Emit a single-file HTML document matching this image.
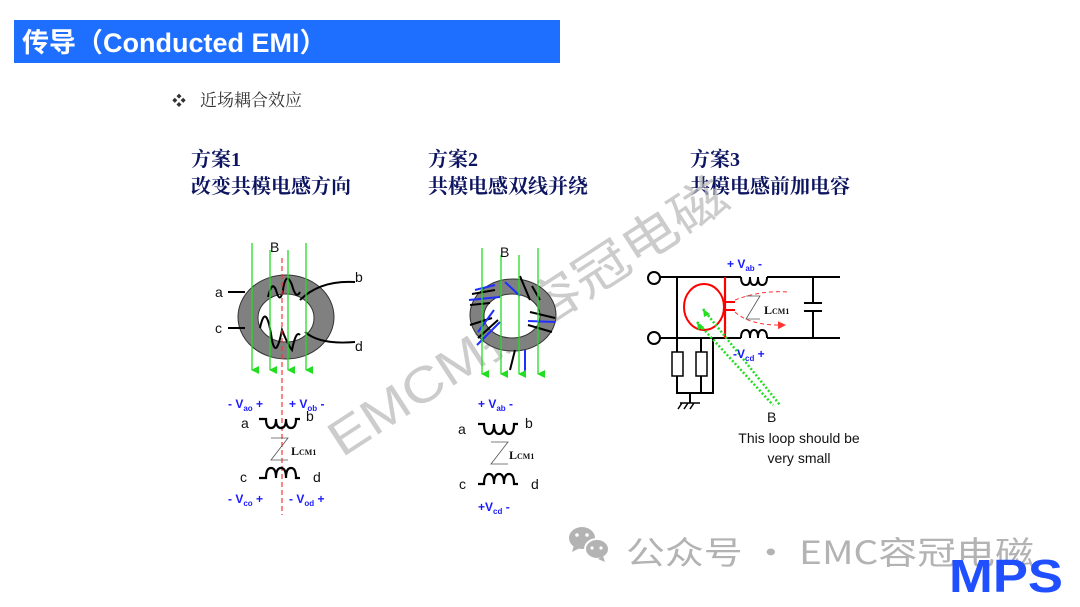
<!DOCTYPE html>
<html><head><meta charset="utf-8"><style>
html,body{margin:0;padding:0;background:#fff;}
svg{display:block;}
.t{font-family:"Liberation Serif","Noto Serif CJK SC",serif;fill:#0d1560;font-size:20px;font-weight:bold;}
.s{font-family:"Liberation Sans","Noto Sans CJK SC",sans-serif;}
.bl{fill:#1a1aff;font-weight:bold;font-size:12px;font-family:"Liberation Sans",sans-serif;}
.bk{font-family:"Liberation Sans",sans-serif;font-size:14px;fill:#111;}
.lc{font-family:"Liberation Serif",serif;font-weight:bold;font-size:12px;fill:#111;}
</style></head><body>
<svg width="1080" height="607" viewBox="0 0 1080 607" xmlns="http://www.w3.org/2000/svg">
<defs>
<marker id="ga" markerWidth="8" markerHeight="8" refX="4" refY="7" orient="auto" markerUnits="userSpaceOnUse" viewBox="0 0 8 8"><path d="M0,0 L8,0 L4,8 z" fill="#22dd22"/></marker>
<marker id="ra" markerWidth="8" markerHeight="8" refX="7" refY="4" orient="auto" markerUnits="userSpaceOnUse" viewBox="0 0 8 8"><path d="M0,0 L8,4 L0,8 z" fill="#ff3333"/></marker>
</defs>
<rect x="14" y="20" width="546" height="43" fill="#1e6fff"/>
<text x="22" y="52" class="s" font-size="27" font-weight="bold" fill="#fff">传导（Conducted EMI）</text>
<text x="172" y="106" font-size="14" fill="#333" class="s">❖</text>
<text x="200" y="106" font-size="17" fill="#333" font-family="Liberation Serif,'Noto Serif CJK SC',serif">近场耦合效应</text>

<text x="191" y="166" class="t">方案1</text><text x="191" y="193" class="t">改变共模电感方向</text>
<text x="428" y="166" class="t">方案2</text><text x="428" y="193" class="t">共模电感双线并绕</text>
<text x="690" y="166" class="t">方案3</text><text x="690" y="193" class="t">共模电感前加电容</text>

<!-- watermark -->
<text x="0" y="0" transform="translate(342,458) rotate(-33)" font-size="50" fill="#bbb" fill-opacity="0.75" font-family="Liberation Sans,'Noto Sans CJK SC',sans-serif" textLength="465" lengthAdjust="spacingAndGlyphs">EMCM技容冠电磁</text>

<!-- Diagram 1 -->
<ellipse cx="286" cy="317" rx="48" ry="42" fill="#808080" stroke="#333" stroke-width="1"/>
<ellipse cx="286" cy="318" rx="28" ry="24" fill="#fff" stroke="#333" stroke-width="1"/>
<g stroke="#000" stroke-width="2" fill="none">
<path d="M228,292 H245"/><path d="M228,328 H245"/>
<path d="M268,297 Q272,280 276,290 Q280,305 283,290 Q286,270 292,285 Q296,300 300,292"/>
<path d="M260,328 Q266,300 272,340 Q276,360 282,330 Q288,345 292,350 Q296,330 300,335"/>
<path d="M300,300 Q320,280 355,282"/><path d="M305,332 Q320,345 355,342"/>
</g>
<g stroke="#22dd22" stroke-width="1.3" marker-end="url(#ga)">
<line x1="252" y1="243" x2="252" y2="370"/><line x1="270" y1="250" x2="270" y2="370"/>
<line x1="288" y1="250" x2="288" y2="370"/><line x1="306" y1="243" x2="306" y2="370"/>
</g>
<line x1="282" y1="258" x2="282" y2="515" stroke="#ff3333" stroke-width="1.2" stroke-dasharray="5,3"/>
<text x="270" y="252" class="bk" font-size="16">B</text>
<text x="215" y="297" class="bk">a</text><text x="215" y="333" class="bk">c</text>
<text x="355" y="282" class="bk">b</text><text x="355" y="351" class="bk">d</text>
<text x="228" y="408" class="bl">- V<tspan font-size="8" dy="3">ao</tspan><tspan dy="-3"> +</tspan></text>
<text x="289" y="408" class="bl">+ V<tspan font-size="8" dy="3">ob</tspan><tspan dy="-3"> -</tspan></text>
<text x="241" y="428" class="bk">a</text><text x="306" y="421" class="bk">b</text>
<path d="M259,419 H266 Q266,428 271,428 Q276,428 276,419 Q276,428 281,428 Q286,428 286,419 Q286,428 291,428 Q296,428 296,419 H300" stroke="#000" stroke-width="2.2" fill="none"/>
<path d="M271,438 H288 L271,460 H288" stroke="#555" stroke-width="0.8" fill="none"/>
<text x="291" y="455" class="lc">L<tspan font-size="8">CM1</tspan></text>
<text x="240" y="482" class="bk">c</text><text x="313" y="482" class="bk">d</text>
<path d="M259,478 H266 Q266,468 271,468 Q276,468 276,478 Q276,468 281,468 Q286,468 286,478 Q286,468 291,468 Q296,468 296,478 H300" stroke="#000" stroke-width="2.2" fill="none"/>
<text x="228" y="503" class="bl">- V<tspan font-size="8" dy="3">co</tspan><tspan dy="-3"> +</tspan></text>
<text x="289" y="503" class="bl">- V<tspan font-size="8" dy="3">od</tspan><tspan dy="-3"> +</tspan></text>

<!-- Diagram 2 -->
<ellipse cx="513" cy="315" rx="43" ry="36" fill="#808080" stroke="#333"/>
<ellipse cx="512" cy="316" rx="28" ry="22" fill="#fff" stroke="#333"/>
<g stroke="#000" stroke-width="2" fill="none">
<path d="M472,294 L495,290"/><path d="M470,305 L490,303"/><path d="M470,325 L492,318"/><path d="M478,338 L498,320"/>
<path d="M520,276 L530,300"/><path d="M532,286 L540,300"/><path d="M530,312 L555,318"/><path d="M528,325 L552,332"/><path d="M515,350 L510,370"/>
</g>
<g stroke="#1f2fff" stroke-width="2" fill="none">
<path d="M469,300 L500,297"/><path d="M478,332 L494,310"/><path d="M477,345 L500,322"/><path d="M505,282 L520,296"/>
<path d="M528,321 L555,322"/><path d="M525,350 L525,372"/><path d="M475,290 L495,285"/>
</g>
<g stroke="#22dd22" stroke-width="1.3" marker-end="url(#ga)">
<line x1="482" y1="248" x2="482" y2="374"/><line x1="501" y1="255" x2="501" y2="374"/>
<line x1="519" y1="255" x2="519" y2="374"/><line x1="538" y1="248" x2="538" y2="374"/>
</g>
<text x="500" y="257" class="bk" font-size="16">B</text>
<text x="478" y="408" class="bl">+ V<tspan font-size="8" dy="3">ab</tspan><tspan dy="-3"> -</tspan></text>
<text x="458" y="434" class="bk">a</text><text x="525" y="428" class="bk">b</text>
<path d="M478,424 H484 Q484,434 489,434 Q494,434 494,424 Q494,434 499,434 Q504,434 504,424 Q504,434 509,434 Q514,434 514,424 H518" stroke="#000" stroke-width="2.2" fill="none"/>
<path d="M491,442 H508 L491,464 H508" stroke="#555" stroke-width="0.8" fill="none"/>
<text x="509" y="459" class="lc">L<tspan font-size="8">CM1</tspan></text>
<text x="459" y="489" class="bk">c</text><text x="531" y="489" class="bk">d</text>
<path d="M478,484 H484 Q484,474 489,474 Q494,474 494,484 Q494,474 499,474 Q504,474 504,484 Q504,474 509,474 Q514,474 514,484 H518" stroke="#000" stroke-width="2.2" fill="none"/>
<text x="478" y="511" class="bl">+V<tspan font-size="8" dy="3">cd</tspan><tspan dy="-3"> -</tspan></text>

<!-- Diagram 3 -->
<g stroke="#000" stroke-width="2" fill="none">
<circle cx="654" cy="278" r="6"/><circle cx="654" cy="338" r="6"/>
<path d="M660,277 H741"/><path d="M767,277 H840"/>
<path d="M660,338 H741"/><path d="M767,338 H840"/>
<path d="M741,277 Q741,285 746,285 Q750,285 750,277 Q750,285 754,285 Q758,285 758,277 Q758,285 762,285 Q767,285 767,277"/>
<path d="M741,338 Q741,330 746,330 Q750,330 750,338 Q750,330 754,330 Q758,330 758,338 Q758,330 762,330 Q767,330 767,338"/>
<path d="M677,277 V393 H713 V338"/><path d="M690,393 V403"/>
<path d="M813,277 V303 M804,303 H822 M804,311 H822 M813,311 V338"/>
</g>
<rect x="672" y="352" width="11" height="24" fill="#fff" stroke="#000" stroke-width="1.5"/>
<rect x="696" y="352" width="11" height="24" fill="#fff" stroke="#000" stroke-width="1.5"/>
<line x1="677" y1="338" x2="677" y2="352" stroke="#000" stroke-width="2"/>
<line x1="701" y1="338" x2="701" y2="352" stroke="#000" stroke-width="2"/>
<line x1="677" y1="376" x2="677" y2="393" stroke="#000" stroke-width="2"/>
<line x1="701" y1="376" x2="701" y2="393" stroke="#000" stroke-width="2"/>
<path d="M680,403 H700 M682,403 L678,409 M688,403 L684,409 M694,403 L690,409" stroke="#000" stroke-width="1.5"/>
<line x1="725" y1="277" x2="725" y2="338" stroke="#ff0000" stroke-width="2.2"/>
<path d="M725,302 H735 M725,310 H735" stroke="#ff0000" stroke-width="2"/>
<ellipse cx="704" cy="307" rx="20" ry="23" fill="none" stroke="#ff0000" stroke-width="2"/>
<path d="M735,300 Q760,290 790,292" stroke="#ff3333" stroke-width="1" stroke-dasharray="4,3" fill="none"/>
<path d="M735,312 Q750,326 785,325" stroke="#ff3333" stroke-width="1" stroke-dasharray="4,3" fill="none" marker-end="url(#ra)"/>
<path d="M746,296 H760 L746,319 H760" stroke="#555" stroke-width="0.8" fill="none"/>
<text x="764" y="314" class="lc">L<tspan font-size="8">CM1</tspan></text>
<line x1="703" y1="309" x2="780" y2="405" stroke="#22dd22" stroke-width="2.5" stroke-dasharray="2,2"/>
<line x1="697" y1="322" x2="773" y2="405" stroke="#22dd22" stroke-width="2.5" stroke-dasharray="2,2"/>
<path d="M703,309 l1,8 l6,-3z M697,322 l1,8 l6,-3z" fill="#22dd22"/>
<text x="727" y="268" class="bl">+ V<tspan font-size="8" dy="3">ab</tspan><tspan dy="-3"> -</tspan></text>
<text x="733" y="358" class="bl">-V<tspan font-size="8" dy="3">cd</tspan><tspan dy="-3"> +</tspan></text>
<text x="767" y="422" class="bk" font-size="15">B</text>
<text x="799" y="443" class="bk" text-anchor="middle">This loop should be</text>
<text x="799" y="463" class="bk" text-anchor="middle">very small</text>

<!-- footer -->
<g fill="#b3b3b3">
<ellipse cx="582" cy="538" rx="13" ry="11"/><path d="M574,545 l-2,7 l8,-4z"/>
<ellipse cx="597" cy="549" rx="12" ry="10" stroke="#fff" stroke-width="2"/><path d="M603,556 l2,6 l-7,-3z"/>
</g>
<g fill="#fff"><circle cx="577" cy="535" r="1.8"/><circle cx="587" cy="535" r="1.8"/><circle cx="592" cy="548" r="1.6"/><circle cx="601" cy="548" r="1.6"/></g>
<text x="626" y="564" font-size="32" fill="#b3b3b3" font-family="'Noto Sans CJK SC',sans-serif" textLength="408" lengthAdjust="spacingAndGlyphs">公众号 · EMC容冠电磁</text>
<text x="949" y="592" font-size="46" font-weight="bold" fill="#1f4fff" font-family="Liberation Sans,sans-serif" textLength="114" lengthAdjust="spacingAndGlyphs">MPS</text>
</svg>
</body></html>
